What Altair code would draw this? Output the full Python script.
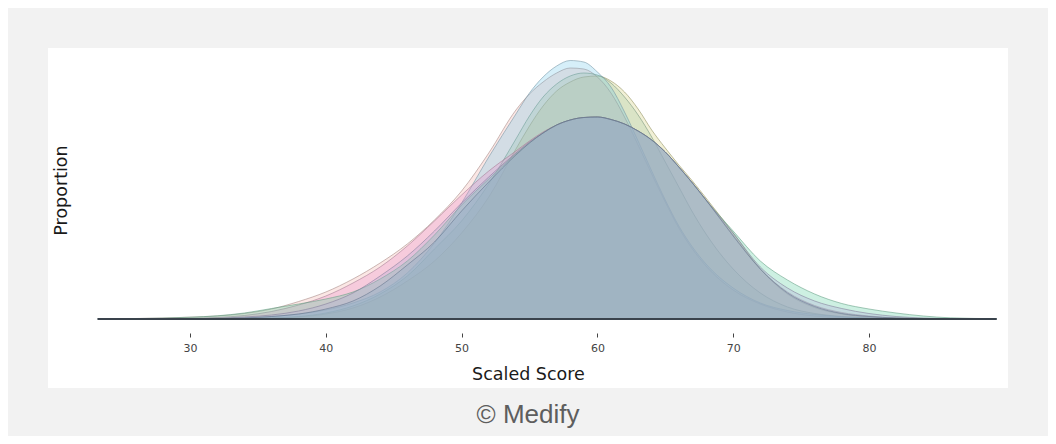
import altair as alt
import pandas as pd

# Scaled score grid
scores = [23.2, 26, 28, 30, 32, 34, 36, 38, 40, 42,
          44, 46, 48, 50, 52, 54, 55, 56, 57, 58,
          59, 60, 61, 62, 63, 64, 65, 66, 67, 68,
          70, 72, 74, 76, 78, 80, 82, 84, 86, 89.4]

# Proportions (in units of 1/4000), one list per cohort
sky = [0, 0, 0.1, 0.2, 0.5, 1.2, 2.5, 5, 9, 16,
       27, 46, 76, 116, 162, 205, 226, 242, 253, 258.5,
       257, 247, 232, 207, 178, 148, 119, 93, 72, 55,
       31, 16, 8.5, 4.5, 2.2, 1, 0.4, 0.15, 0.05, 0]
salmon = [0.2, 0.5, 1, 1.8, 3, 5.5, 10, 17.5, 27, 40,
          56, 75, 99, 128, 166, 209, 225, 237, 246, 251,
          250, 242, 226, 202, 174, 145, 117, 91, 70, 53,
          29, 15, 7, 3, 1.3, 0.5, 0.2, 0.1, 0, 0]
green = [0, 0, 0, 0, 0.1, 0.4, 1, 2.5, 6, 13,
         25, 43, 70, 98, 135, 180, 203, 222, 235, 243,
         246, 244, 236, 222, 204, 182, 157, 132, 107, 85,
         50, 26, 12, 5.5, 2.5, 1, 0.4, 0.1, 0, 0]
yellow = [0, 0, 0, 0, 0.1, 0.3, 0.8, 2, 5, 11,
          22, 38, 58, 86, 122, 170, 193, 213, 228, 237,
          242, 243, 238, 227, 210, 189, 171, 154, 138, 121,
          86, 50, 25, 11.5, 5, 2, 0.8, 0.3, 0.1, 0]
periwinkle = [0, 0, 0.05, 0.1, 0.4, 1, 2.5, 5, 10, 18,
              33, 54, 77, 108, 137, 164, 176, 186, 194, 199,
              201.5, 202, 199.5, 195, 188, 179, 167, 152, 136, 119,
              83, 50, 26, 12.5, 5.5, 2.5, 1, 0.4, 0.1, 0]
magenta = [0.05, 0.1, 0.2, 0.6, 1.5, 3.5, 7.5, 14, 23, 36,
           52, 73, 98, 124, 148, 168, 178, 187, 194, 199,
           201.5, 202, 199.5, 195, 188, 179, 167, 152, 136, 119,
           84, 50, 27, 13.5, 6.5, 3, 1.2, 0.5, 0.2, 0]
lavender = [0.02, 0.05, 0.1, 0.3, 0.8, 2, 4, 8, 15, 26,
            43, 63, 88, 116, 142, 166, 177, 186, 194, 199,
            201.5, 202, 199.5, 195, 188, 179, 167, 152, 136, 119,
            86, 52, 31, 18, 10.5, 5.5, 2.5, 1, 0.4, 0.1]
mint = [0.15, 0.4, 0.9, 1.8, 3.2, 6, 10.5, 15, 20, 27,
        40, 58, 84, 114, 140, 165, 176, 186, 194, 199,
        201.5, 202, 199.5, 195, 188, 179, 167, 152, 136, 119,
        88, 58, 39, 25, 15.5, 10, 6, 3, 1.2, 0.3]

# name, values, fill colour, fill opacity, outline colour (first is drawn at the bottom)
series = [
    ("Yellow", yellow, "#c8c35a", 0.25, "#8c8a5a"),
    ("Salmon", salmon, "#f0a096", 0.25, "#a08480"),
    ("Green", green, "#96be96", 0.25, "#6f8f78"),
    ("Sky", sky, "#5abee6", 0.25, "#6f8fa0"),
    ("Magenta", magenta, "#eb8cc8", 0.3, "#a07890"),
    ("Mint", mint, "#5acda0", 0.3, "#5f9a80"),
    ("Lavender", lavender, "#afaad7", 0.3, "#7f7898"),
    ("Periwinkle", periwinkle, "#8caac3", 0.3, "#5f7088"),
]

UNIT = 4000.0
FONT = "DejaVu Sans"

x_enc = alt.X(
    "score:Q",
    scale=alt.Scale(domain=[19.54, 90.24], nice=False, zero=False),
    axis=alt.Axis(
        values=[30, 40, 50, 60, 70, 80], offset=-55, domain=False, grid=False,
        tickSize=4, tickColor="#444", tickWidth=1,
        labelColor="#444", labelFont=FONT, labelFontSize=11, labelPadding=5,
        title="Scaled Score", titleFont=FONT, titleFontSize=17.5,
        titleFontWeight="normal", titleColor="#1a1a1a", titleY=32,
    ),
)
y_enc = alt.Y(
    "prop:Q",
    scale=alt.Scale(domain=[-69 / UNIT, 271 / UNIT], nice=False, zero=False),
    axis=alt.Axis(
        labels=False, ticks=False, domain=False, grid=False,
        title="Proportion", titleFont=FONT, titleFontSize=17.5,
        titleFontWeight="normal", titleColor="#1a1a1a", titleX=22, titleY=142,
    ),
)

layers = []
for name, vals, col, alpha, edge in series:
    d = pd.DataFrame({"score": scores, "prop": [v / UNIT for v in vals], "series": name})
    base = alt.Chart(d)
    layers.append(
        base.mark_area(interpolate="monotone", color=col, fillOpacity=alpha, strokeWidth=0)
        .encode(x=x_enc, y=y_enc, y2=alt.datum(0))
    )
    layers.append(
        base.mark_line(interpolate="monotone", color=edge, strokeWidth=1, opacity=0.55)
        .encode(x=x_enc, y=y_enc)
    )

baseline = alt.Chart(
    pd.DataFrame({"score": [scores[0]], "score_end": [scores[-1]], "prop": [0.0]})
).mark_rule(color="#3a434c", strokeWidth=2).encode(x=x_enc, x2="score_end:Q", y=y_enc)
layers.append(baseline)

chart = (
    alt.layer(*layers)
    .properties(
        width=960,
        height=340,
        background="#f2f2f2",
        padding={"left": 40, "top": 40, "right": 40, "bottom": 8},
        title=alt.TitleParams(
            text="© Medify", orient="bottom", anchor="middle",
            font="Liberation Sans", fontSize=26, fontWeight="normal",
            color="#5e5e5e", offset=14,
        ),
    )
    .configure_view(fill="white", stroke=None)
)

chart.save("out.html", embed_options={"renderer": "svg", "actions": False})
